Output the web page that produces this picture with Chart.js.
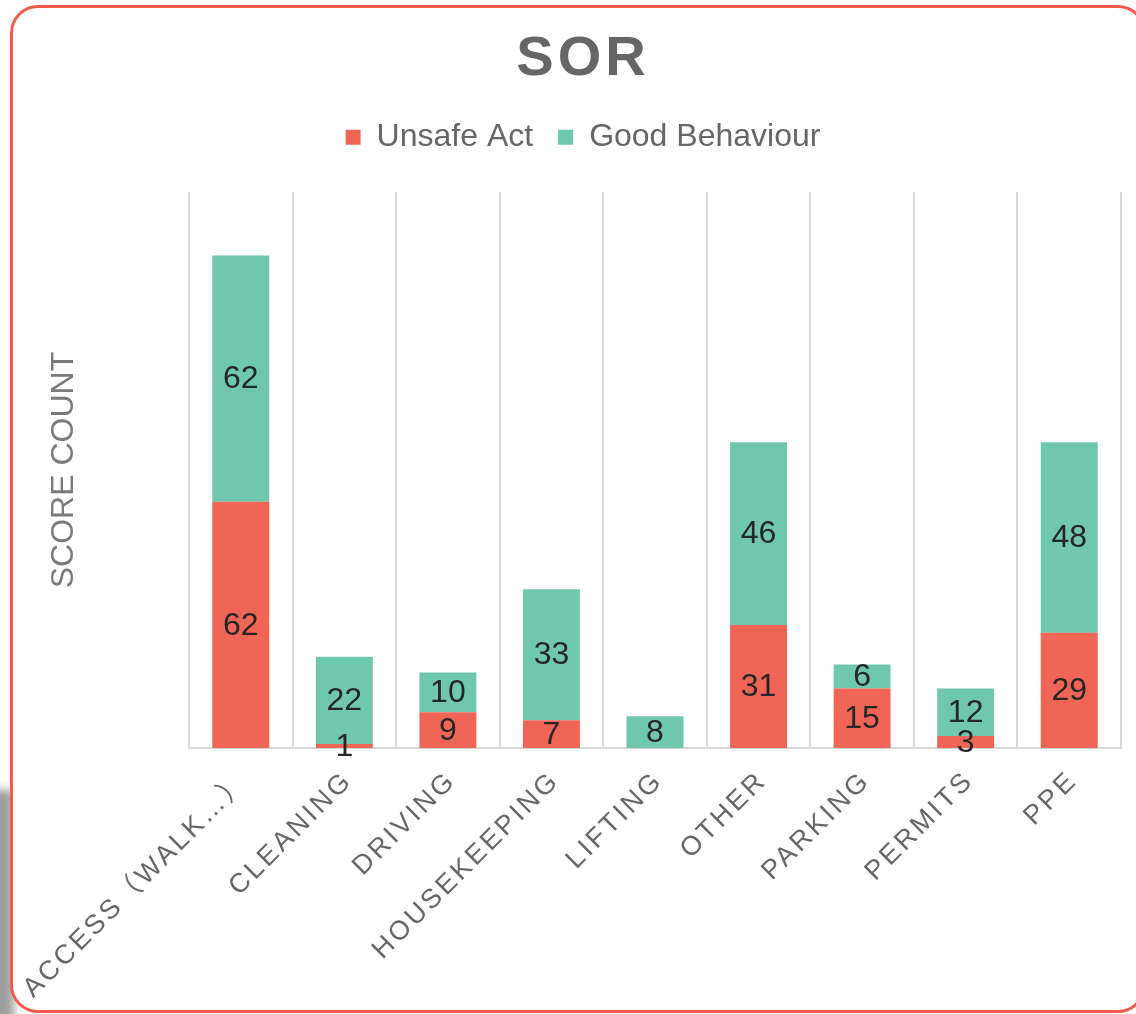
<!DOCTYPE html>
<html>
<head>
<meta charset="utf-8">
<title>SOR</title>
<script src="https://cdn.jsdelivr.net/npm/chart.js@4.4.1/dist/chart.umd.min.js"></script>
<style>
    html, body { margin: 0; padding: 0; background: #ffffff; overflow: hidden; }
    body { width: 1136px; height: 1014px; position: relative; }
    /* sombra gris abajo a la izquierda */
    .sombra {
        position: absolute; left: -30px; top: 790px; width: 44px; height: 260px;
        background: #9c9c9c; filter: blur(5px);
    }
    .tarjeta {
        position: absolute; left: 10px; top: 5px; width: 1130px; height: 1002px;
        border: 3px solid #f25a4a; border-radius: 28px; background: #ffffff;
    }
    #grafico { position: absolute; left: 0; top: 0; }
</style>
</head>
<body>
<div class="sombra"></div>
<div class="tarjeta"></div>
<canvas id="grafico" width="1136" height="1014"></canvas>
<script>
    'use strict';

    // ─── Datos ────────────────────────────────────────────────────
    const categorias = ['ACCESS（WALK…）', 'CLEANING', 'DRIVING', 'HOUSEKEEPING', 'LIFTING', 'OTHER', 'PARKING', 'PERMITS', 'PPE'];
    const actoInseguro = [62, 1, 9, 7, 0, 31, 15, 3, 29];
    const buenComportamiento = [62, 22, 10, 33, 8, 46, 6, 12, 48];
    const ejeYMax = 140;

    const ROJO = '#f06656';
    const VERDE = '#6fc8ae';
    const GRIS = '#666666';
    const FUENTE = '"Liberation Sans", Arial, "Noto Sans CJK SC", sans-serif';

    // ─── Etiquetas dentro de cada segmento + espaciado de letras ──
    const pluginEtiquetas = {
        id: 'etiquetas',
        afterInit(chart) {
            // espaciado en el título "SOR"
            const t = chart.titleBlock;
            const dibujar = t.draw.bind(t);
            t.draw = function (area) {
                const c = chart.ctx;
                c.save();
                c.letterSpacing = '4px';
                dibujar(area);
                c.restore();
            };
        },
        afterDatasetsDraw(chart) {
            const ctx = chart.ctx;
            ctx.save();
            ctx.letterSpacing = '0px';
            ctx.font = '32px ' + FUENTE;
            ctx.fillStyle = '#262626';
            ctx.textAlign = 'center';
            ctx.textBaseline = 'middle';
            chart.data.datasets.forEach((ds, i) => {
                const meta = chart.getDatasetMeta(i);
                meta.data.forEach((bar, j) => {
                    const v = ds.data[j];
                    if (!v) return;
                    ctx.fillText(String(v), bar.x, (bar.y + bar.base) / 2 + 1);
                });
            });
            ctx.restore();
            // las etiquetas del eje x (z: 1) se dibujan después, con espaciado
            ctx.letterSpacing = '3px';
        },
        afterDraw(chart) {
            chart.ctx.letterSpacing = '0px';
        }
    };

    new Chart(document.getElementById('grafico'), {
        type: 'bar',
        data: {
            labels: categorias,
            datasets: [
                { label: 'Unsafe Act', data: actoInseguro, backgroundColor: ROJO, borderWidth: 0 },
                { label: 'Good Behaviour', data: buenComportamiento, backgroundColor: VERDE, borderWidth: 0 }
            ]
        },
        options: {
            responsive: false,
            animation: false,
            devicePixelRatio: 1,
            categoryPercentage: 1,
            barPercentage: 0.55,
            layout: { padding: { top: 10, right: 15, bottom: 0, left: 45 } },
            plugins: {
                title: {
                    display: true,
                    text: 'SOR',
                    color: GRIS,
                    font: { family: FUENTE, size: 56, weight: 'bold', lineHeight: 1.2 },
                    padding: { top: 16, bottom: 3 }
                },
                legend: {
                    position: 'top',
                    labels: {
                        color: GRIS,
                        font: { family: FUENTE, size: 32 },
                        boxWidth: 15,
                        boxHeight: 15,
                        padding: 25
                    }
                },
                // espaciador entre la leyenda y el área del gráfico
                subtitle: {
                    display: true,
                    text: '',
                    weight: 500,
                    font: { family: FUENTE, size: 24, lineHeight: 1.2 },
                    padding: 0
                },
                tooltip: { enabled: false }
            },
            scales: {
                x: {
                    stacked: true,
                    grid: { display: true, offset: true, color: '#d9d9d9', lineWidth: 2, drawTicks: false },
                    border: { display: true, color: '#d9d9d9', width: 2 },
                    ticks: {
                        z: 1,
                        autoSkip: false,
                        minRotation: 45,
                        maxRotation: 45,
                        padding: 17,
                        labelOffset: 4,
                        color: GRIS,
                        font: { family: FUENTE, size: 27 }
                    },
                    afterFit(scale) { scale.height = 266; }
                },
                y: {
                    stacked: true,
                    min: 0,
                    max: ejeYMax,
                    grid: { display: false },
                    border: { display: false },
                    ticks: { display: false },
                    title: {
                        display: true,
                        text: 'SCORE COUNT',
                        color: '#7a7a7a',
                        font: { family: FUENTE, size: 32, lineHeight: 1.2 },
                        padding: { top: 0, bottom: 0 }
                    },
                    afterFit(scale) { scale.width = 144; }
                }
            }
        },
        plugins: [pluginEtiquetas]
    });
</script>
</body>
</html>
